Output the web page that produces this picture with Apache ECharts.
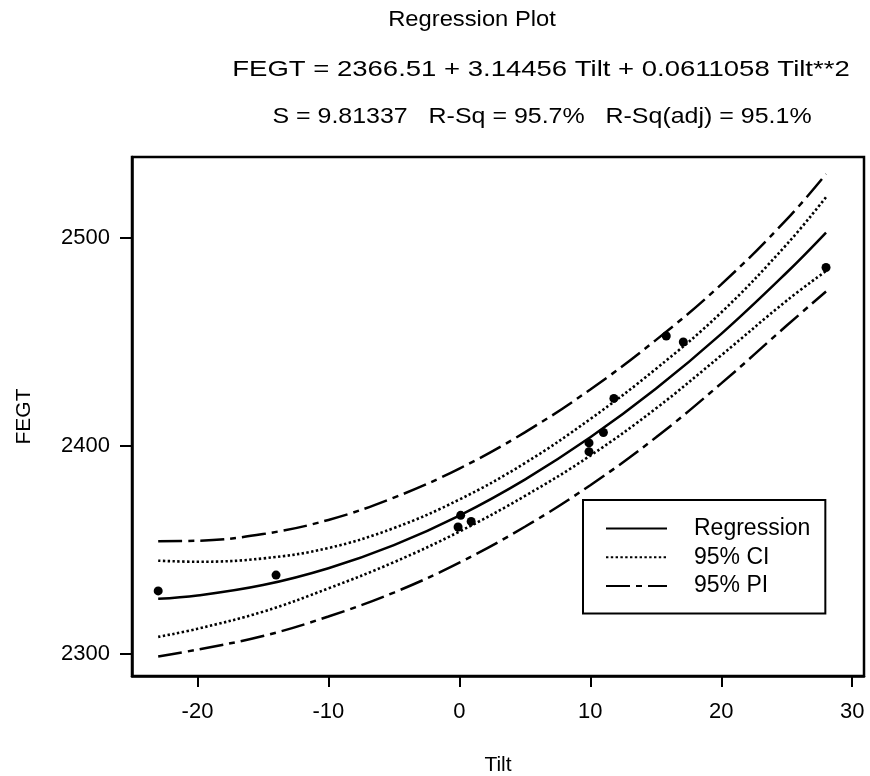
<!DOCTYPE html>
<html>
<head>
<meta charset="utf-8">
<script src="https://cdn.jsdelivr.net/npm/echarts@6/dist/echarts.min.js"></script>
<style>
html,body{margin:0;padding:0;background:#fff;}
#chart{width:870px;height:776px;}
</style>
</head>
<body>
<div id="chart"></div>
<script>
// Observed data points
var tilt = [-23, -14, 0.1, -0.1, 0.9, 9.9, 9.9, 11, 11.8, 15.8, 17.1, 28];
var fegt = [2330.3, 2337.9, 2366.6, 2361.0, 2363.7, 2401.4, 2397.2, 2406.4, 2422.8, 2452.8, 2449.9, 2485.7];

// Fitted curve and bands
var tiltGrid = [-23, -20, -15, -10, -5, 0, 5, 10, 15, 20, 25, 28];
var fit     = [2326.5, 2328.1, 2333.1, 2341.2, 2352.3, 2366.5, 2383.8, 2404.1, 2427.4, 2453.8, 2483.3, 2502.5];
var ciUpper = [2344.8, 2344.3, 2345.9, 2350.9, 2360.5, 2374.2, 2391.7, 2412.9, 2436.9, 2464.1, 2496.8, 2519.5];
var ciLower = [2308.2, 2312.1, 2320.3, 2331.5, 2344.1, 2358.8, 2375.9, 2395.3, 2417.9, 2443.5, 2469.8, 2484.0];
var piUpper = [2354.2, 2354.4, 2357.6, 2364.4, 2375.1, 2389.1, 2406.5, 2427.1, 2450.8, 2477.6, 2508.8, 2530.6];
var piLower = [2298.8, 2302.1, 2308.6, 2318.0, 2329.5, 2343.9, 2361.1, 2381.1, 2404.0, 2430.0, 2457.8, 2474.2];

// Tick labels
var xTicks = [-20, -10, 0, 10, 20, 30];
var yTicks = [2300, 2400, 2500];

var seriesNames = ['Regression', '95% CI', '95% PI'];

var FONT = '"Liberation Sans", Arial, Helvetica, sans-serif';

function pairs(xs, ys) { return xs.map(function (x, i) { return [x, ys[i]]; }); }

var chart = echarts.init(document.getElementById('chart'));

var solid = { color: '#000', width: 2.5, type: 'solid' };
var dotted = { color: '#000', width: 2.6, type: [2.4, 2.4] };
var dashdot = { color: '#000', width: 2.5, type: [24, 6, 6, 6] };

function lineSeries(name, ys, style) {
  return {
    name: name, type: 'line', data: pairs(tiltGrid, ys),
    smooth: 0.4, symbol: 'none', showSymbol: false,
    lineStyle: style, itemStyle: { color: '#000' },
    silent: true, animation: false, z: 3
  };
}

var option = {
  animation: false,
  backgroundColor: '#fff',
  graphic: [
    { type: 'text', x: 472, y: 20, scaleX: 1.08, style: { text: 'Regression Plot', fill: '#000', font: '22px ' + FONT, textAlign: 'center', textVerticalAlign: 'middle' } },
    { type: 'text', x: 541, y: 70, scaleX: 1.25, style: { text: 'FEGT = 2366.51 + 3.14456 Tilt + 0.0611058 Tilt**2', fill: '#000', font: '22px ' + FONT, textAlign: 'center', textVerticalAlign: 'middle' } },
    { type: 'text', x: 542, y: 117, scaleX: 1.135, style: { text: 'S = 9.81337   R-Sq = 95.7%   R-Sq(adj) = 95.1%', fill: '#000', font: '22px ' + FONT, textAlign: 'center', textVerticalAlign: 'middle' } }
  ],
  grid: {
    left: 132, right: 6, top: 157, bottom: 100,
    outerBoundsMode: 'none', containLabel: false,
    show: true, borderColor: '#000', borderWidth: 2.5, backgroundColor: '#fff'
  },
  legend: {
    data: seriesNames,
    orient: 'vertical',
    left: 583, top: 500,
    padding: [17, 15, 16, 22],
    borderColor: '#000', borderWidth: 2,
    itemWidth: 61, itemHeight: 14, itemGap: 5.7,
    selectedMode: false,
    itemStyle: { opacity: 0 },
    textStyle: { fontSize: 23, fontFamily: FONT, color: '#000', padding: [0, 0, 0, 22] }
  },
  xAxis: {
    type: 'value', min: -25, max: 30.9,
    name: 'Tilt', nameLocation: 'middle', nameGap: 79,
    nameTextStyle: { fontSize: 21, fontFamily: FONT, color: '#000' },
    axisLine: { show: true, onZero: false, lineStyle: { color: '#000', width: 2.5 } },
    axisTick: { show: true, inside: false, length: 11, lineStyle: { color: '#000', width: 2 }, customValues: xTicks },
    axisLabel: { margin: 25, fontSize: 22, fontFamily: FONT, color: '#000', customValues: xTicks },
    splitLine: { show: false }
  },
  yAxis: {
    type: 'value', min: 2289.4, max: 2538.8,
    name: 'FEGT', nameLocation: 'middle', nameGap: 97,
    nameTextStyle: { fontSize: 21, fontFamily: FONT, color: '#000' },
    axisLine: { show: true, onZero: false, lineStyle: { color: '#000', width: 2.5 } },
    axisTick: { show: true, inside: false, length: 12, lineStyle: { color: '#000', width: 2 }, customValues: yTicks },
    axisLabel: { margin: 22, fontSize: 22, fontFamily: FONT, color: '#000', customValues: yTicks,
      formatter: function (v) { return String(v); } },
    splitLine: { show: false }
  },
  series: [
    lineSeries('Regression', fit, solid),
    lineSeries('95% CI', ciUpper, dotted),
    lineSeries('95% CI', ciLower, dotted),
    lineSeries('95% PI', piUpper, dashdot),
    lineSeries('95% PI', piLower, dashdot),
    {
      name: 'Data', type: 'scatter', data: pairs(tilt, fegt),
      symbol: 'circle', symbolSize: 9, itemStyle: { color: '#000', opacity: 1 }, z: 5, silent: true
    }
  ]
};
chart.setOption(option);
</script>
</body>
</html>
